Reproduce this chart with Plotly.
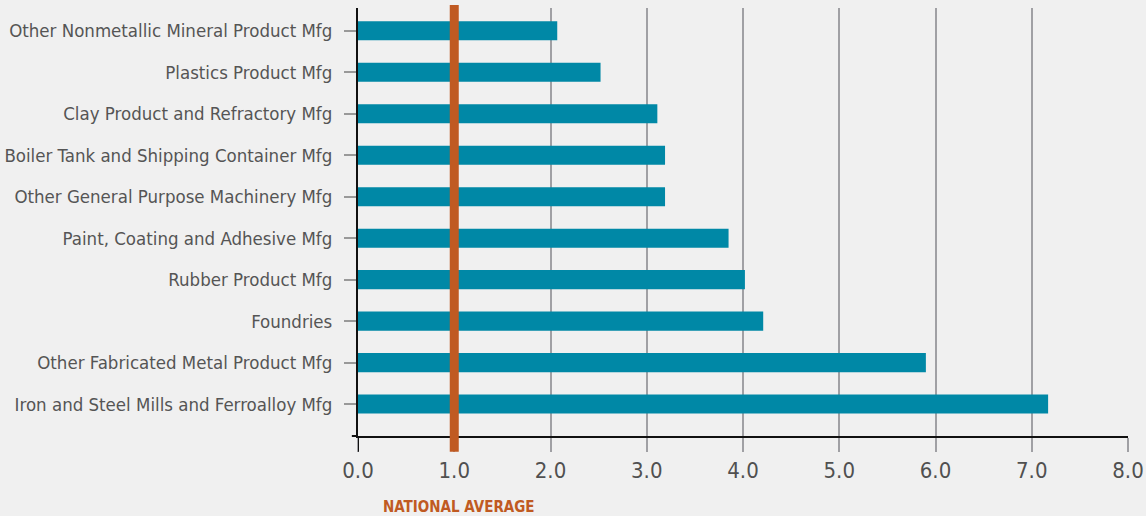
import plotly.graph_objects as go

categories = [
    "Iron and Steel Mills and Ferroalloy Mfg",
    "Other Fabricated Metal Product Mfg",
    "Foundries",
    "Rubber Product Mfg",
    "Paint, Coating and Adhesive Mfg",
    "Other General Purpose Machinery Mfg",
    "Boiler Tank and Shipping Container Mfg",
    "Clay Product and Refractory Mfg",
    "Plastics Product Mfg",
    "Other Nonmetallic Mineral Product Mfg",
]
values = [7.17, 5.90, 4.21, 4.02, 3.85, 3.19, 3.19, 3.11, 2.52, 2.07]
tick_vals = [0, 1, 2, 3, 4, 5, 6, 7, 8]
tick_text = ["0.0", "1.0", "2.0", "3.0", "4.0", "5.0", "6.0", "7.0", "8.0"]
national_average = 1.0

FONT = "DejaVu Sans Condensed, Liberation Sans Narrow, sans-serif"
TEXT = "#555555"
ORANGE = "#c05a22"

fig = go.Figure()
fig.add_trace(go.Bar(
    y=categories, x=values, orientation="h",
    marker=dict(color="#0088a6", line=dict(width=0)),
    width=0.46, hoverinfo="x+y",
))

fig.update_layout(
    width=1146, height=516,
    paper_bgcolor="#f0f0f0", plot_bgcolor="#f0f0f0",
    margin=dict(l=358, r=18, t=8, b=80),
    showlegend=False,
    font=dict(family=FONT, color=TEXT),
    xaxis=dict(
        range=[0, 8], tickvals=tick_vals, ticktext=tick_text,
        showgrid=True, gridcolor="#a0a0a4", gridwidth=2,
        zeroline=False, showline=True, linecolor="#111111", linewidth=2,
        ticks="outside", ticklen=14, tickcolor="#a0a0a4", tickwidth=2,
        tickfont=dict(size=22, color="#505050", family=FONT),
        automargin=False,
    ),
    yaxis=dict(
        range=[-0.77, 9.55], categoryorder="array", categoryarray=categories,
        showgrid=False, zeroline=False,
        showline=True, linecolor="#111111", linewidth=2,
        ticks="outside", ticklen=12, tickcolor="#999999", tickwidth=2,
        tickfont=dict(size=18.5, color=TEXT, family=FONT),
        ticklabelstandoff=8, automargin=False,
    ),
)

# axis line overshoots at the origin
fig.add_shape(type="line", xref="x", yref="paper", x0=0, x1=0, y0=0, y1=-0.037,
              line=dict(color="#111111", width=2), layer="above")
fig.add_shape(type="line", xref="paper", yref="paper", x0=-0.008, x1=0, y0=0, y1=0,
              line=dict(color="#111111", width=2), layer="above")

# national average line
fig.add_shape(type="line", xref="x", yref="paper",
              x0=national_average, x1=national_average, y0=-0.037, y1=1.007,
              line=dict(color=ORANGE, width=9), layer="above")
fig.add_annotation(x=national_average, xref="x", y=-0.165, yref="paper",
                   text="<b>NATIONAL AVERAGE</b>", showarrow=False,
                   font=dict(size=15, color=ORANGE, family=FONT),
                   xanchor="center", yanchor="middle", xshift=5)

fig.write_html("out.html", config={"displayModeBar": False},
               post_script="document.body.style.margin='0';document.body.style.background='#f0f0f0';")
